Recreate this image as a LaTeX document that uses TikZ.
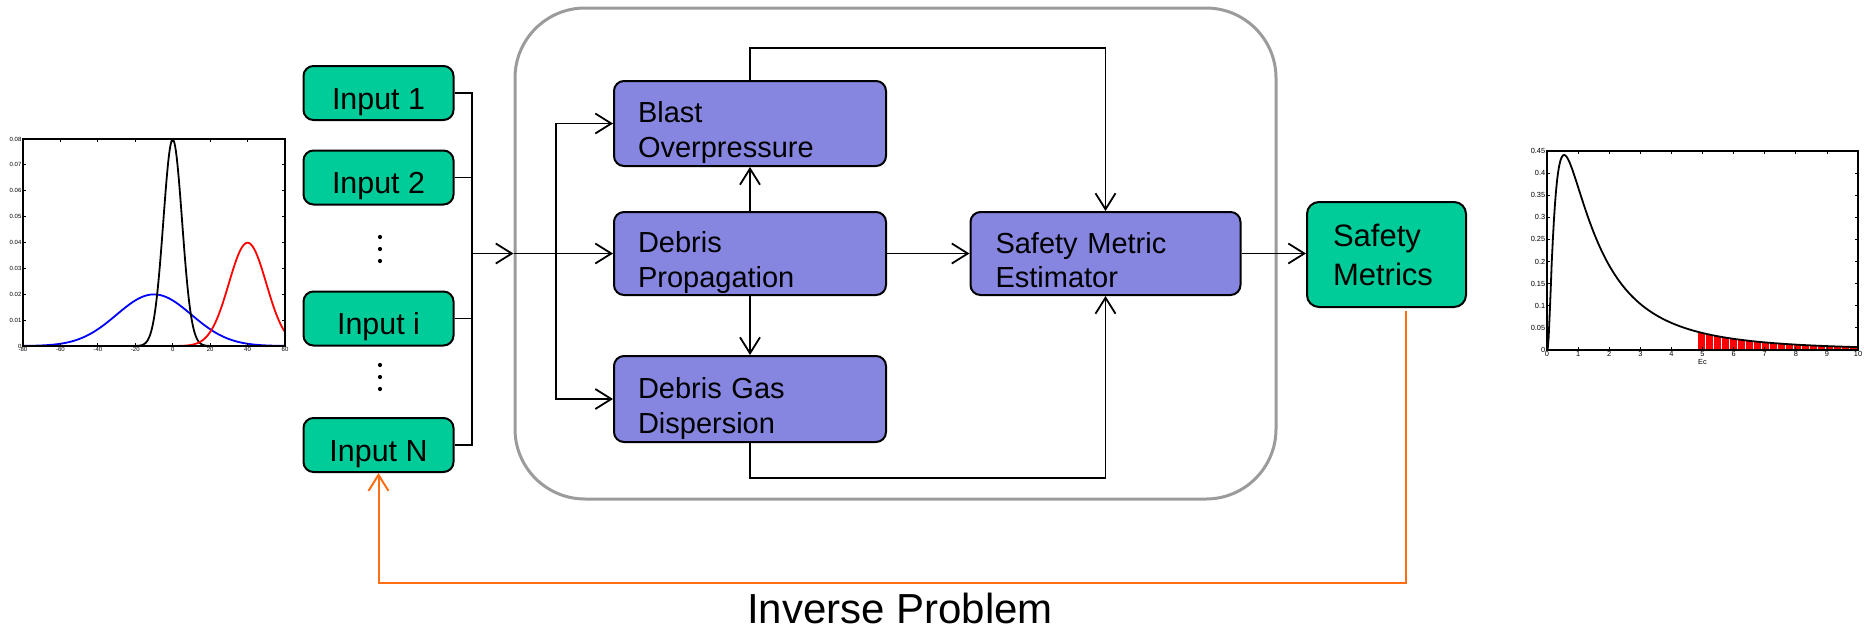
\documentclass[tikz,border=0pt]{standalone}
\usepackage{fontspec}
\setmainfont{Liberation Sans}
\usetikzlibrary{arrows.meta}
\definecolor{boxgreen}{RGB}{0,204,153}
\definecolor{boxpurple}{RGB}{134,134,224}
\definecolor{framegray}{RGB}{155,155,155}
\definecolor{invorange}{RGB}{255,110,20}
\begin{document}
\begin{tikzpicture}[x=0.5pt,y=-0.5pt,
  inbox/.style={draw, line width=1pt, fill=boxgreen, rounded corners=5pt,
    minimum width=75pt, minimum height=27pt, inner sep=0pt,
    font=\fontsize{15.2}{18}\selectfont, text height=19.5pt, text depth=3.2pt},
  blk/.style={draw, line width=1pt, fill=boxpurple, rounded corners=5pt,
    minimum width=136pt, text width=112pt, inner xsep=12pt, inner ysep=0pt,
    align=left, font=\fontsize{14.5}{17.3}\selectfont},
  smbox/.style={draw, line width=1pt, fill=boxgreen, rounded corners=6pt,
    minimum width=79.5pt, minimum height=52.5pt, text width=53.5pt, inner xsep=13pt,
    inner ysep=0pt, align=left, font=\fontsize{15.5}{19.5}\selectfont},
  frame/.style={draw=framegray, line width=1.5pt, rounded corners=35pt},
  conn/.style={line width=0.9pt, black},
  arr/.style={-{Straight Barb[length=8pt,width=10pt]}},
  inv/.style={line width=1pt, invorange},
  vdot/.style={circle, fill=black, inner sep=0pt, minimum size=2.1pt},
  ticklbl/.style={font=\fontsize{3}{3.5}\selectfont, inner sep=0.6pt},
  ticklblr/.style={font=\fontsize{3.7}{4.2}\selectfont, inner sep=0.7pt},
  curve/.style={line width=0.9pt}
]
\useasboundingbox (0,0) rectangle (1864,638);

% ---------- left plot ----------
\begin{scope}[shift={(23,346)},x=0.935714pt,y=12.9375pt]
  \draw[blue,curve] plot[domain=-80:60,samples=141] ({\x+80},{1.99471*exp(-0.5*((\x+10)/20)^2)});
  \draw[black,curve] plot[domain=-20:20,samples=121] ({\x+80},{7.97885*exp(-0.5*(\x/5)^2)});
  \draw[red,curve] (18,0) -- plot[domain=0:60,samples=121] ({\x+80},{3.98942*exp(-0.5*((\x-40)/10)^2)});
  \draw[line width=0.7pt] (0,0) rectangle (140,8);
  \foreach \t in {0,20,...,140} {
    \draw[line width=0.4pt] (\t,0) -- ++(0,1.5pt);
    \draw[line width=0.4pt] (\t,8) -- ++(0,-1.5pt);
  }
  \foreach \u in {0,...,8} {
    \draw[line width=0.4pt] (0,\u) -- ++(1.5pt,0);
    \draw[line width=0.4pt] (140,\u) -- ++(-1.5pt,0);
  }
  \foreach \v [count=\k] in {-80,-60,-40,-20,0,20,40,60}
    \node[ticklbl, below] (lx\k) at ({\v+80},0) {\v};
  \foreach \u/\l in {0/0,1/0.01,2/0.02,3/0.03,4/0.04,5/0.05,6/0.06,7/0.07,8/0.08}
    \node[ticklbl, left] (ly\u) at (0,\u) {\l};
\end{scope}

% ---------- right plot ----------
\begin{scope}[shift={(1547,350)},x=15.55pt,y=2.21111pt]
  \foreach \i in {0,...,19} {
    \pgfmathsetmacro\xa{4.87+0.2565*\i}
    \pgfmathsetmacro\xm{\xa+0.11}
    \pgfmathsetmacro\hh{100*exp(-0.5*(ln(\xm)-0.4)^2)/(\xm*2.50663)}
    \fill[red] (\xa,0) rectangle ({\xa+0.22},\hh);
  }
  \draw[curve] (0,0) -- plot[domain=0.02:10,samples=300] (\x,{100*exp(-0.5*(ln(\x)-0.4)^2)/(\x*2.50663)});
  \draw[line width=0.7pt] (0,0) rectangle (10,45);
  \foreach \t in {0,...,10} {
    \draw[line width=0.4pt] (\t,0) -- ++(0,1.5pt);
    \draw[line width=0.4pt] (\t,45) -- ++(0,-1.5pt);
    \node[ticklblr, below] (rx\t) at (\t,0) {\t};
  }
  \foreach \u/\l in {0/0,5/0.05,10/0.1,15/0.15,20/0.2,25/0.25,30/0.3,35/0.35,40/0.4,45/0.45} {
    \draw[line width=0.4pt] (0,\u) -- ++(1.5pt,0);
    \draw[line width=0.4pt] (10,\u) -- ++(-1.5pt,0);
    \node[ticklblr, left] (ry\u) at (0,\u) {\l};
  }
  \node[ticklblr] (eclabel) at (5,0) [yshift=-6pt] {Ec};
\end{scope}

% ---------- frame ----------
\node[frame, minimum width=380.5pt, minimum height=245.5pt] (frame) at (895.5,253.5) {};

% ---------- inputs ----------
\node[inbox] (in1) at (378.5,93) {Input 1};
\node[inbox] (in2) at (378.5,177.5) {Input 2};
\node[inbox] (ini) at (378.5,318.5) {Input i};
\node[inbox] (inN) at (378.5,445) {Input N};
\foreach \yy [count=\k] in {237,249,261,365,377,389}
  \node[vdot] (vd\k) at (380,\yy) {};

% ---------- blocks ----------
\node[blk, minimum height=42.5pt] (blast) at (750,123.5) {\rule{0pt}{19.8pt}Blast\\Overpressure\rule[-3pt]{0pt}{0pt}};
\node[blk, minimum height=41.5pt] (dp) at (750,253.5) {\rule{0pt}{19.8pt}Debris\\Propagation\rule[-3pt]{0pt}{0pt}};
\node[blk, minimum height=43pt] (disp) at (750,399) {\rule{0pt}{19.8pt}Debris Gas\\Dispersion\rule[-3pt]{0pt}{0pt}};
\node[blk, minimum width=135pt, text width=110pt, inner xsep=12.5pt, minimum height=41.5pt] (sme) at (1105.5,253.5) {\rule{0pt}{19.8pt}Safety Metric\\Estimator\rule[-3pt]{0pt}{0pt}};
\node[smbox] (sm) at (1386.5,254.5) {Safety\\Metrics};

% ---------- connectors ----------
\coordinate (busx) at (472,0);
\coordinate (splitx) at (556,0);
\coordinate (topy) at (0,48);
\coordinate (boty) at (0,478);
\coordinate (invy) at (0,583);

\draw[conn] (in1.east) -- (in1.east -| busx) -- (inN.east -| busx) -- (inN.east);
\draw[conn] (in2.east) -- (in2.east -| busx);
\draw[conn] (ini.east) -- (ini.east -| busx);
\draw[conn,arr] (busx |- frame.west) -- (frame.west);
\draw[conn,arr] (frame.west) -- (dp.west);
\draw[conn,arr] (splitx |- dp.west) |- (blast.west);
\draw[conn,arr] (splitx |- dp.west) |- (disp.west);
\draw[conn,arr] (dp.north) -- (blast.south);
\draw[conn,arr] (dp.south) -- (disp.north);
\draw[conn,arr] (dp.east) -- (sme.west);
\draw[conn,arr] (blast.north) -- (blast.north |- topy) -| (sme.north);
\draw[conn,arr] (disp.south) -- (disp.south |- boty) -| (sme.south);
\draw[conn,arr] (sme.east) -- (sme.east -| sm.west);
\draw[inv,arr] ([xshift=9.75pt,yshift=-1.5pt]sm.south) -- ([xshift=9.75pt]sm.south |- invy) -- (inN.south |- invy) -- (inN.south);

\node[font=\fontsize{21}{25}\selectfont, anchor=base, inner sep=0pt] (invlabel) at (900,623) {Inverse Problem};
\end{tikzpicture}
\end{document}
